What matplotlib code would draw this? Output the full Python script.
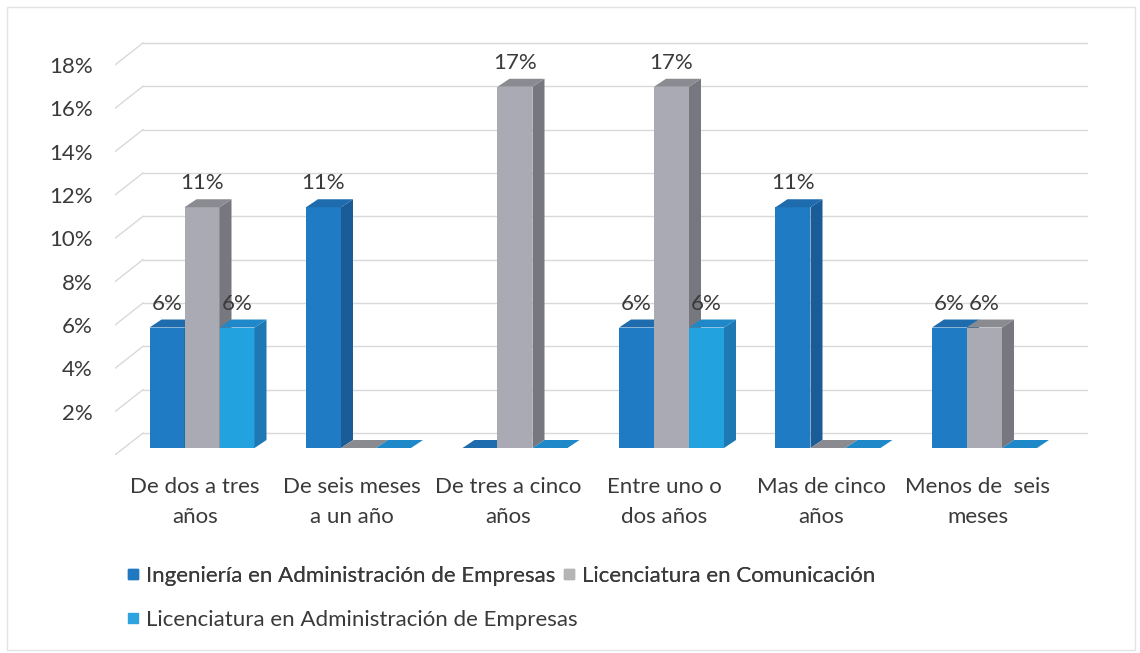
import matplotlib.pyplot as plt
from matplotlib.patches import Polygon, Rectangle
from matplotlib.lines import Line2D

categories = ["De dos a tres\naños", "De seis meses\na un año", "De tres a cinco\naños",
              "Entre uno o\ndos años", "Mas de cinco\naños", "Menos de  seis\nmeses"]
series_names = ["Ingeniería en Administración de Empresas",
                "Licenciatura en Comunicación",
                "Licenciatura en Administración de Empresas"]
ing_admin = [5.56, 11.11, 0, 5.56, 11.11, 5.56]
lic_comun = [11.11, 0, 16.67, 16.67, 0, 5.56]
lic_admin = [5.56, 0, 0, 5.56, 0, 0]
yticks = [2, 4, 6, 8, 10, 12, 14, 16, 18]

# front, side, top shades per series
shades = [("#1f7bc3", "#195c98", "#1e6cae"),
          ("#a9aab3", "#76777f", "#8a8b91"),
          ("#23a2e0", "#1d78b3", "#1f88c8")]
legend_colors = ["#2079c0", "#b5b5b5", "#2ea3e0"]
text_color = "#3a3a3a"
grid_color = "#d9d9d9"
fs = 16

plt.rcParams["font.family"] = ["Lato", "DejaVu Sans"]

W, H = 1140, 653
fig = plt.figure(figsize=(W / 100, H / 100), dpi=100)

# axes box in pixels: floor front-left corner at (115, 455)
px_x, px_y = 156.5, 21.67
x0_px, left_px, right_px, top_px, bot_px = 202, 115, 1120, 35, 455
ax = fig.add_axes([left_px / W, (H - bot_px) / H, (right_px - left_px) / W, (bot_px - top_px) / H])
ax.set_xlim((left_px - x0_px) / px_x, (right_px - x0_px) / px_x)
ax.set_ylim(0, (bot_px - top_px) / px_y)
for s in ax.spines.values():
    s.set_visible(False)

# depth offsets (data units) for the walls and for the bars
wall_dx, wall_dy = 28 / px_x, 22 / px_y
bar_dx, bar_dy = 12 / px_x, 8 / px_y
bar_base = 7 / px_y
bar_w = 35 / px_x

xl = ax.get_xlim()[0]
xr_back = (1087 - x0_px) / px_x
for g in [0] + yticks:
    ax.plot([xl, xl + wall_dx], [g, g + wall_dy], color=grid_color, lw=1, zorder=1)
    ax.plot([xl + wall_dx, xr_back], [g + wall_dy, g + wall_dy], color=grid_color, lw=1, zorder=1)

all_series = [ing_admin, lic_comun, lic_admin]
z = 2
for ci in range(len(categories)):
    for si, vals in enumerate(all_series):
        v = vals[ci]
        front, side, top = shades[si]
        xa = ci - 1.5 * bar_w + si * bar_w
        xb = xa + bar_w
        yb, yt = bar_base, bar_base + v
        if v > 0:
            ax.add_patch(Rectangle((xa, yb), bar_w, v, facecolor=front, edgecolor="none", zorder=z))
            ax.add_patch(Polygon([(xb, yb), (xb, yt), (xb + bar_dx, yt + bar_dy), (xb + bar_dx, yb + bar_dy)],
                                 closed=True, facecolor=side, edgecolor="none", zorder=z))
        ax.add_patch(Polygon([(xa, yt), (xb, yt), (xb + bar_dx, yt + bar_dy), (xa + bar_dx, yt + bar_dy)],
                             closed=True, facecolor=top, edgecolor="none", zorder=z))
        z += 1
        if v > 0:
            ax.text(xa + bar_w / 2, yt + 24 / px_y, f"{v:.0f}%", ha="center", va="center",
                    fontsize=fs, color=text_color, zorder=100)

ax.set_yticks(yticks)
ax.set_yticklabels([f"{t}%" for t in yticks])
ax.set_xticks([i - 7 / px_x for i in range(len(categories))])
ax.set_xticklabels(categories, linespacing=1.6)
ax.tick_params(axis="y", length=0, pad=16, labelsize=fs, labelcolor=text_color)
ax.tick_params(axis="x", length=0, pad=16, labelsize=fs, labelcolor=text_color)

handles = [Line2D([], [], marker="s", ls="", markersize=7.5, color=c) for c in legend_colors]
leg1 = fig.legend(handles[:2], series_names[:2], ncol=2, loc="center left",
                  bbox_to_anchor=(115 / W, 1 - 576 / H), frameon=False, fontsize=fs,
                  handlelength=0.6, handletextpad=0.3, columnspacing=0.3, borderpad=0,
                  labelcolor=text_color)
leg2 = fig.legend(handles[2:], series_names[2:], loc="center left",
                  bbox_to_anchor=(115 / W, 1 - 620 / H), frameon=False, fontsize=fs,
                  handlelength=0.6, handletextpad=0.3, borderpad=0, labelcolor=text_color)
fig.add_artist(leg1)

fig.patches.append(Rectangle((7 / W, 3 / H), 1128 / W, 643 / H, transform=fig.transFigure,
                             facecolor="none", edgecolor="#e3e3e3", lw=1))

fig.savefig("out.png", dpi=100)
